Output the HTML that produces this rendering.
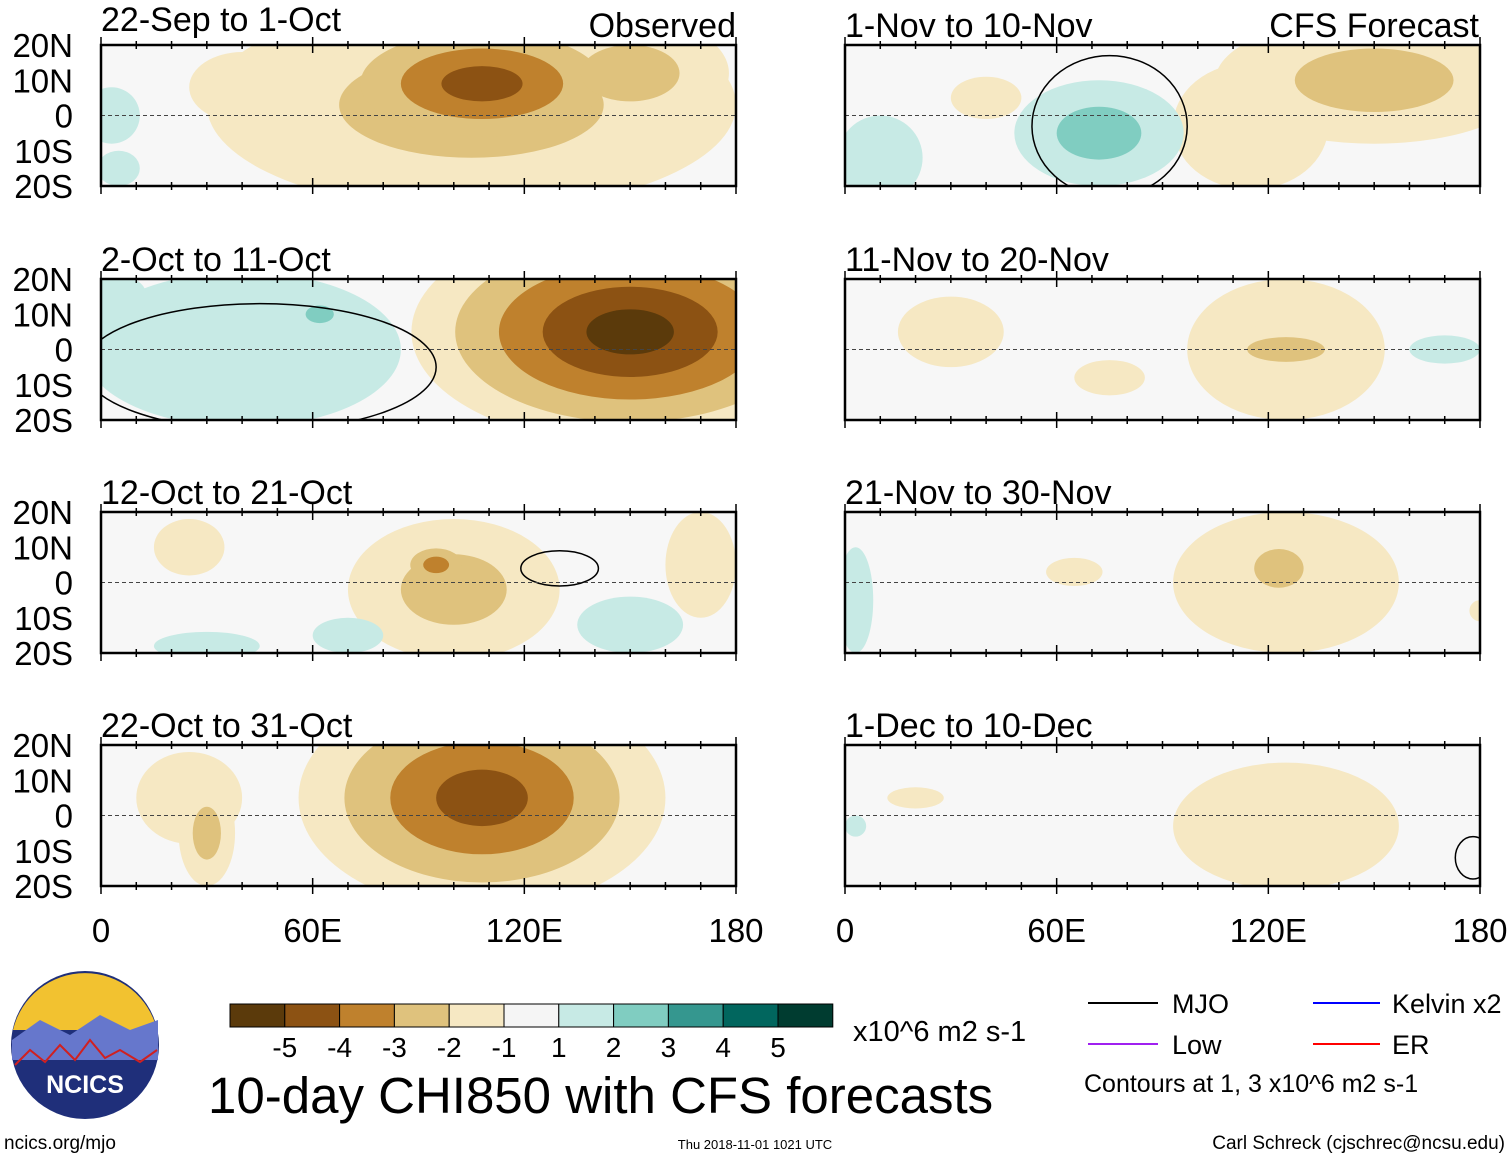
<!DOCTYPE html>
<html><head><meta charset="utf-8"><style>
body{margin:0;background:#fff;font-family:"Liberation Sans",sans-serif}
svg text{font-family:"Liberation Sans",sans-serif}
</style></head><body>
<svg id="s" width="1510" height="1159" viewBox="0 0 1510 1159" xmlns="http://www.w3.org/2000/svg">
<defs id="defs"></defs>
<g id="maps"></g>
<g id="cbar"></g>
<text x="208" y="1113" font-size="51">10-day CHI850 with CFS forecasts</text>
<text x="853" y="1041" font-size="29">x10^6 m2 s-1</text>
<g font-size="27">
<line x1="1088" y1="1003" x2="1158" y2="1003" stroke="#000" stroke-width="2"/><text x="1172" y="1013">MJO</text>
<line x1="1313" y1="1003" x2="1380" y2="1003" stroke="#0000ff" stroke-width="2"/><text x="1392" y="1013">Kelvin x2</text>
<line x1="1088" y1="1044" x2="1158" y2="1044" stroke="#a020f0" stroke-width="2"/><text x="1172" y="1054">Low</text>
<line x1="1313" y1="1044" x2="1380" y2="1044" stroke="#ff0000" stroke-width="2"/><text x="1392" y="1054">ER</text>
<text x="1084" y="1092" font-size="25">Contours at 1, 3 x10^6 m2 s-1</text>
</g>
<g>
<circle cx="85" cy="1045" r="74" fill="#1f2f7a"/>
<path d="M13,1030 A74,74 0 0 1 157,1030 Z" fill="#f2c230"/>
<path d="M12,1040 L40,1020 L70,1035 L100,1015 L130,1030 L158,1020 L158,1060 L12,1060Z" fill="#6677cc"/>
<path d="M15,1065 L30,1050 L45,1062 L60,1045 L75,1060 L90,1040 L105,1058 L120,1050 L140,1062 L157,1050" stroke="#d02020" stroke-width="2" fill="none"/>
<text x="85" y="1093" font-size="25" font-weight="bold" fill="#fff" text-anchor="middle">NCICS</text>
</g>
<text x="4" y="1149" font-size="19">ncics.org/mjo</text>
<text x="755" y="1149" font-size="13" text-anchor="middle">Thu 2018-11-01 1021 UTC</text>
<text x="1505" y="1149" font-size="19" text-anchor="end">Carl Schreck (cjschrec@ncsu.edu)</text>
</svg>
<script>
const levelColors=["#5b3a0b","#8c5213","#bf812d","#dfc27d","#f6e8c3","#f5f5f5","#c7eae5","#80cdc1","#35978f","#01665e","#003c30"];
const levelLabels=["-5","-4","-3","-2","-1","1","2","3","4","5"];
const panelTitles=["22-Sep to 1-Oct","2-Oct to 11-Oct","12-Oct to 21-Oct","22-Oct to 31-Oct","1-Nov to 10-Nov","11-Nov to 20-Nov","21-Nov to 30-Nov","1-Dec to 10-Dec"];
const lonTicks=[0,60,120,180];
const lonLabels=["0","60E","120E","180"];
const latTicks=[20,10,0,-10,-20];
const latLabels=["20N","10N","0","10S","20S"];
// anomaly blobs per panel: [lon, lat, rxDeg, ryDeg, peakLevel]
const blobs1=[[105,3,75,30,-2],[108,9,46,20,-4],[150,12,28,16,-2],[40,8,15,10,-1],[3,0,8,8,1],[5,-15,6,5,1]];
const blobs2=[[40,0,45,22,1],[62,10,8,5,2],[150,5,62,32,-5],[5,15,8,6,1]];
const blobs3=[[100,-2,30,20,-2],[95,5,11,7,-3],[170,5,10,15,-1],[150,-12,15,8,1],[30,-18,15,4,1],[25,10,10,8,-1],[70,-15,10,5,1]];
const blobs4=[[108,5,52,32,-4],[30,-5,8,15,-2],[25,5,15,13,-1]];
const blobs5=[[150,10,45,18,-2],[115,-3,22,18,-1],[72,-5,24,15,2],[10,-12,12,12,1],[40,5,10,6,-1]];
const blobs6=[[125,0,28,20,-1],[125,0,22,7,-2],[30,5,15,10,-1],[170,0,10,4,1],[75,-8,10,5,-1]];
const blobs7=[[125,0,32,20,-1],[123,4,14,11,-2],[3,-5,5,15,1],[65,3,8,4,-1],[180,-8,3,3,-1]];
const blobs8=[[125,-3,32,18,-1],[20,5,8,3,-1],[3,-3,3,3,1]];
const allBlobs=[blobs1,blobs2,blobs3,blobs4,blobs5,blobs6,blobs7,blobs8];
// MJO contour outlines per panel: [lon, lat, rxDeg, ryDeg]
const mjo=[[],[[45,-5,50,18]],[[130,4,11,5]],[],[[75,-3,22,20]],[],[],[[178,-12,5,6]]];
const NS="http://www.w3.org/2000/svg";
function mk(t,a,p){const e=document.createElementNS(NS,t);for(const k in a)e.setAttribute(k,a[k]);p.appendChild(e);return e;}
const maps=document.getElementById('maps'),defs=document.getElementById('defs');
const cols=[101,845],rows=[45,279,512,745],W=635,H=141;
for(let p=0;p<8;p++){
  const x0=cols[Math.floor(p/4)],y0=rows[p%4];
  const xs=lon=>x0+lon/180*W, ys=lat=>y0+(20-lat)/40*H;
  const g=mk('g',{},maps);
  
  
  const cp=mk('clipPath',{id:'c'+p},defs);mk('rect',{x:x0,y:y0,width:W,height:H},cp);
  mk('rect',{x:x0,y:y0,width:W,height:H,fill:'#f7f7f7'},g);
  const f=mk('g',{'clip-path':'url(#c'+p+')'},g);
  const b=allBlobs[p];
  for(let k=1;k<=5;k++){
    b.forEach(d=>{const a=Math.abs(d[4]);if(k>a)return;const s=1-(k-1)/a;
      const e=mk('ellipse',{cx:xs(d[0]),cy:ys(d[1]),rx:d[2]*s*W/180,ry:d[3]*s*H/40,fill:d[4]<0?levelColors[5-k]:levelColors[5+k]},f);
      
      });
  }
  mjo[p].forEach(d=>{const e=mk('ellipse',{cx:xs(d[0]),cy:ys(d[1]),rx:d[2]*W/180,ry:d[3]*H/40,fill:'none',stroke:'#000','stroke-width':1.5},f);
    
    });
  mk('line',{x1:x0,x2:x0+W,y1:ys(0),y2:ys(0),stroke:'#444','stroke-dasharray':'4,3','stroke-width':1},g);
  mk('rect',{x:x0,y:y0,width:W,height:H,fill:'none',stroke:'#000','stroke-width':2.5},g);
  for(let l=0;l<=180;l+=10){const L=l%60==0?8:4;mk('line',{x1:xs(l),x2:xs(l),y1:y0-L,y2:y0+L,stroke:'#000','stroke-width':1.5},g);mk('line',{x1:xs(l),x2:xs(l),y1:y0+H-L,y2:y0+H+L,stroke:'#000','stroke-width':1.5},g);}
  const t=mk('text',{x:x0,y:y0-(p==0?14:8),'font-size':34},g);t.textContent=panelTitles[p];
  
  
  if(p<4) latTicks.forEach((la,i)=>{const tt=mk('text',{x:73,y:ys(la)+12,'font-size':33,'text-anchor':'end'},g);tt.textContent=latLabels[i];
    
    });
  if(p==0){const o=mk('text',{x:736,y:y0-8,'font-size':34,'text-anchor':'end'},g);o.textContent='Observed';}
  if(p==4){const o=mk('text',{x:1479,y:y0-8,'font-size':34,'text-anchor':'end'},g);o.textContent='CFS Forecast';}
  if(p%4==3) lonTicks.forEach((lo,i)=>{const tt=mk('text',{x:xs(lo),y:942,'font-size':33,'text-anchor':'middle'},g);tt.textContent=lonLabels[i];
    
    });
}
const cb=document.getElementById('cbar');
levelColors.forEach((c,i)=>{const r=mk('rect',{x:230+i*54.8,y:1004,width:54.8,height:23,fill:c,stroke:'#000','stroke-width':1},cb);
  
  });
levelLabels.forEach((l,i)=>{const t=mk('text',{x:230+(i+1)*54.8,y:1057,'font-size':28,'text-anchor':'middle'},cb);t.textContent=l;});
</script>
</body></html>
